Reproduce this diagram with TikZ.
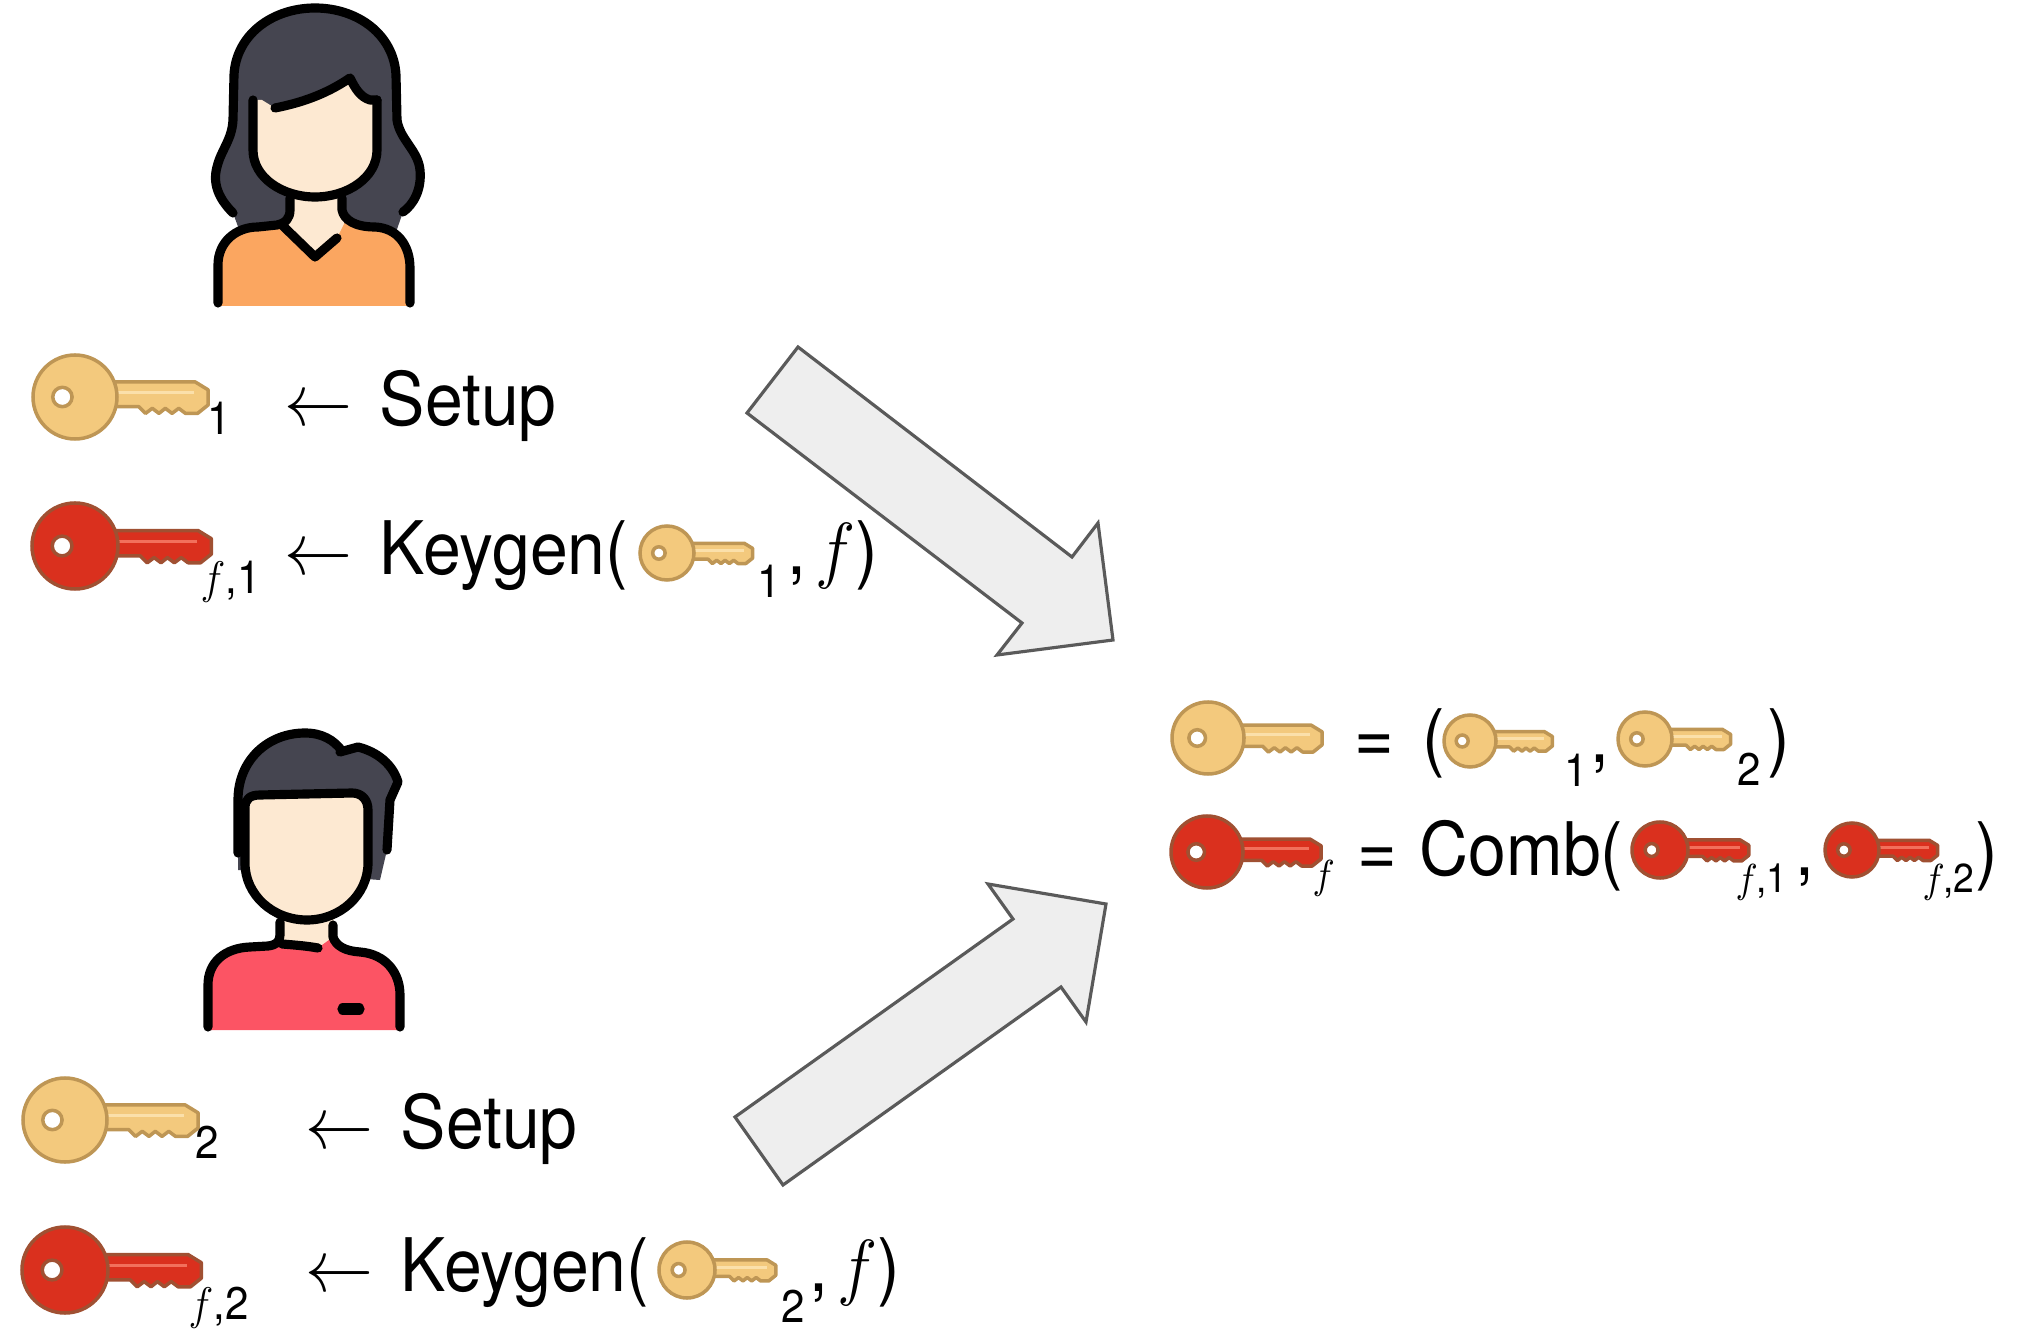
\RequirePackage{fix-cm}
\documentclass[tikz,border=0pt]{standalone}
\usepackage{fontspec}
\setmainfont{TeX Gyre Heros}

\definecolor{keyY}{RGB}{243,201,125}
\definecolor{keyYline}{RGB}{190,150,85}
\definecolor{keyYhi}{RGB}{251,224,170}
\definecolor{keyR}{RGB}{218,48,30}
\definecolor{keyRline}{RGB}{160,80,50}
\definecolor{keyRhi}{RGB}{242,112,92}
\definecolor{hair}{RGB}{69,69,80}
\definecolor{skin}{RGB}{253,233,210}
\definecolor{shirtO}{RGB}{251,166,96}
\definecolor{shirtR}{RGB}{252,84,100}
\definecolor{arrowfill}{RGB}{238,238,238}
\definecolor{arrowline}{RGB}{90,90,90}

% horizontally condensed text
\newcommand\sqz[1]{\scalebox{0.92}[1]{#1}}

% key drawn with head radius 1, pointing right, y axis downwards
\newcommand\keyshape[3]{%
  \filldraw[fill=#1, draw=#2, line width=1pt, line join=round]
    (0.8,-0.36) -- (2.86,-0.36) -- (3.17,-0.17) -- (3.17,0.19) -- (2.92,0.39)
    -- (2.63,0.39) -- (2.47,0.27) -- (2.31,0.39) -- (2.15,0.27) -- (2.0,0.39)
    -- (1.84,0.27) -- (1.68,0.39) -- (1.52,0.23) -- (0.8,0.23) -- cycle;
  \draw[#3, line width=0.8pt] (1.0,-0.1) -- (2.84,-0.1);
  \filldraw[fill=#1, draw=#2, line width=1pt] (0,0) circle (1);
  \filldraw[fill=white, draw=#2, line width=1pt] (-0.3,0) circle (0.23);
}

\tikzset{
  pics/ykey/.style={code={\keyshape{keyY}{keyYline}{keyYhi}}},
  pics/rkey/.style={code={\keyshape{keyR}{keyRline}{keyRhi}}},
  big/.style={anchor=base west, inner sep=0pt, font=\fontsize{21}{25}\selectfont},
  small/.style={anchor=base west, inner sep=0pt, font=\fontsize{13}{15}\selectfont},
  tiny/.style={anchor=base west, inner sep=0pt, font=\fontsize{11.5}{14}\selectfont},
  blockarrow/.style={fill=arrowfill, draw=arrowline, line width=0.9pt, line join=miter},
  outline/.style={draw=black, line width=2.6pt, line cap=round, line join=round},
}

\begin{document}
\begin{tikzpicture}[x=0.01cm, y=-0.01cm]
\useasboundingbox (0,0) rectangle (2018,1331);

% ---------- block arrows ----------
\draw[blockarrow] (798,347) -- (1072,557) -- (1098,523) -- (1113,640) -- (997,655)
  -- (1022,623) -- (747,413) -- cycle;
\draw[blockarrow] (735,1117) -- (1013,919) -- (988,884) -- (1106,904) -- (1086,1022)
  -- (1061,987) -- (783,1185) -- cycle;

% ---------- woman ----------
\fill[hair] (240,232) -- (233,213) .. controls (220,200) and (212,185) .. (217,167)
  .. controls (221,150) and (232,140) .. (233,120) -- (234,75)
  .. controls (236,35) and (272,8) .. (315,8) .. controls (358,8) and (394,35) .. (396,75)
  -- (397,120) .. controls (400,140) and (418,150) .. (420,170)
  .. controls (422,190) and (413,205) .. (403,212) -- (395,235) -- cycle;
\fill[skin] (288,185) rectangle (344,255);
\fill[shirtO] (218,306) -- (218,265) .. controls (218,242) and (236,227) .. (258,227)
  -- (283,224) -- (315,257) -- (337,238) -- (345,222)
  .. controls (350,226) and (360,227) .. (375,227)
  .. controls (397,228) and (410,245) .. (410,268) -- (410,306) -- cycle;
\fill[skin] (253,100) -- (253,150) .. controls (253,178) and (283,197) .. (315,197)
  .. controls (347,197) and (377,178) .. (377,150) -- (377,100) -- (370,100)
  .. controls (360,97) and (355,88) .. (350,78)
  .. controls (325,95) and (300,103) .. (275,108) -- (262,100) -- cycle;
\draw[outline] (233,213) .. controls (220,200) and (212,185) .. (217,167)
  .. controls (221,150) and (232,140) .. (233,120) -- (234,75)
  .. controls (236,35) and (272,8) .. (315,8) .. controls (358,8) and (394,35) .. (396,75)
  -- (397,120) .. controls (400,140) and (418,150) .. (420,170)
  .. controls (422,190) and (413,205) .. (403,212);
\draw[outline] (253,100) -- (253,150) .. controls (253,178) and (283,197) .. (315,197)
  .. controls (347,197) and (377,178) .. (377,150) -- (377,100);
\draw[outline] (275,108) .. controls (300,103) and (325,95) .. (350,78)
  .. controls (355,88) and (360,97) .. (370,100) -- (377,100);
\draw[outline] (218,303) -- (218,265) .. controls (218,242) and (236,227) .. (258,227)
  -- (277,225) .. controls (286,223) and (290,218) .. (290,210) -- (290,198);
\draw[outline] (283,226) -- (315,257) -- (337,238);
\draw[outline] (342,198) -- (342,210) .. controls (344,220) and (355,227) .. (375,227)
  .. controls (397,228) and (410,245) .. (410,268) -- (410,303);

% ---------- man ----------
\fill[hair] (238,870) -- (238,800) .. controls (238,760) and (268,733) .. (305,733)
  .. controls (322,733) and (334,740) .. (342,751) -- (358,747)
  .. controls (378,752) and (393,765) .. (398,782) -- (390,800) -- (387,850) -- (380,880) -- cycle;
\fill[skin] (280,900) rectangle (334,955);
\fill[shirtR] (208,1030) -- (208,985) .. controls (208,962) and (225,948) .. (250,947)
  -- (280,943) -- (318,948) -- (333,937) .. controls (336,946) and (345,951) .. (360,952)
  .. controls (385,954) and (400,972) .. (400,995) -- (400,1030) -- cycle;
\filldraw[fill=skin, outline] (245,863) -- (245,808) .. controls (245,799) and (250,795) .. (260,795)
  -- (352,793) .. controls (362,793) and (368,800) .. (368,810) -- (368,863)
  .. controls (368,895) and (340,920) .. (307,920) .. controls (273,920) and (245,895) .. (245,863) -- cycle;
\draw[outline] (238,853) -- (238,800) .. controls (238,760) and (268,733) .. (305,733)
  .. controls (322,733) and (334,740) .. (342,751);
\draw[outline] (340,752) -- (358,747) .. controls (378,752) and (393,765) .. (398,782)
  -- (390,800) -- (387,850);
\draw[outline] (208,1027) -- (208,985) .. controls (208,962) and (225,948) .. (250,947)
  -- (268,946) .. controls (276,945) and (280,942) .. (280,935) -- (280,922);
\draw[outline] (282,944) .. controls (295,945) and (307,946) .. (318,948);
\draw[outline] (333,925) -- (333,937) .. controls (336,946) and (345,951) .. (360,952)
  .. controls (385,954) and (400,972) .. (400,995) -- (400,1027);
\draw[outline, line width=3.2pt] (343,1009) -- (359,1009);

% ---------- first party ----------
\pic[scale=42] (kA) at (75,397) {ykey};
\node[small] (kAsub) at (207,435) {\sqz{1}};
\node[big] (arrA) at (284,426) {\sqz{$\leftarrow$}};
\node[big] (setupA) at (379,426) {\sqz{Setup}};

\pic[scale=43] (rA) at (75,546) {rkey};
\node[small] (rAsub) at (200,594) {\sqz{$f$,1}};
\node[big] (arrB) at (284,575) {\sqz{$\leftarrow$}};
\node[big] (keygenA) at (379,575) {\sqz{Keygen(}};
\pic[scale=27] (kAin) at (667,553) {ykey};
\node[small] (kAinsub) at (757,598) {\sqz{1}};
\node[big] (closeA) at (787,575) {\sqz{,\hspace{0.1cm}$f$)}};

% ---------- second party ----------
\pic[scale=42] (kB) at (65,1120) {ykey};
\node[small] (kBsub) at (195,1158) {\sqz{2}};
\node[big] (arrC) at (305,1148) {\sqz{$\leftarrow$}};
\node[big] (setupB) at (400,1148) {\sqz{Setup}};

\pic[scale=43] (rB) at (65,1270) {rkey};
\node[small] (rBsub) at (188,1319) {\sqz{$f$,2}};
\node[big] (arrD) at (305,1291) {\sqz{$\leftarrow$}};
\node[big] (keygenB) at (400,1291) {\sqz{Keygen(}};
\pic[scale=28] (kBin) at (687,1270) {ykey};
\node[small] (kBinsub) at (781,1322) {\sqz{2}};
\node[big] (closeB) at (809,1291) {\sqz{,\hspace{0.1cm}$f$)}};

% ---------- combined keys ----------
\pic[scale=36] (kC) at (1208,738) {ykey};
\node[big] (eqA) at (1354,763) {\sqz{=}};
\node[big] (openA) at (1422,763) {\sqz{(}};
\pic[scale=26] (kC1) at (1470,741) {ykey};
\node[small] (kC1sub) at (1564,787) {\sqz{1}};
\node[big] (commaA) at (1590,763) {\sqz{,}};
\pic[scale=27] (kC2) at (1645,739) {ykey};
\node[small] (kC2sub) at (1737,786) {\sqz{2}};
\node[big] (closeC) at (1767,763) {\sqz{)}};

\pic[scale=36] (rC) at (1207,852) {rkey};
\node[tiny] (rCsub) at (1312,888) {\sqz{$f$}};
\node[big] (eqB) at (1357,876) {\sqz{=}};
\node[big] (comb) at (1419,876) {\sqz{Comb(}};
\pic[scale=28] (rC1) at (1660,850) {rkey};
\node[tiny] (rC1sub) at (1735,892) {\sqz{$f$\kern-0.5pt,1}};
\node[big] (commaB) at (1795,876) {\sqz{,}};
\pic[scale=27] (rC2) at (1852,850) {rkey};
\node[tiny] (rC2sub) at (1922,892) {\sqz{$f$\kern-0.5pt,2}};
\node[big] (closeD) at (1975,876) {\sqz{)}};
\end{tikzpicture}
\end{document}
